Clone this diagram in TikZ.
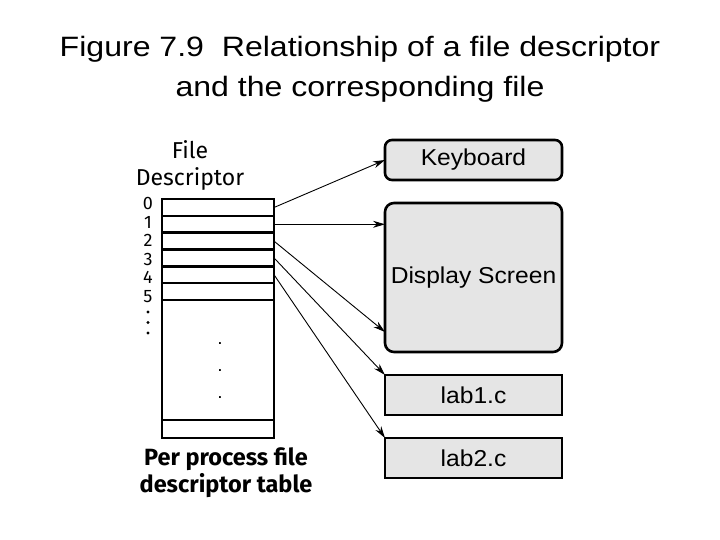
\documentclass[tikz,border=0pt]{standalone}
\usepackage{fontspec}
\setmainfont{Liberation Sans}[FakeStretch=1.07]
\newfontfamily\titlefont{Liberation Sans}[FakeStretch=1.145]
\newfontfamily\fdfont{Fira Sans}
\usetikzlibrary{arrows.meta,positioning}

\begin{document}
\begin{tikzpicture}[
  x=1pt, y=-1pt,
  node distance=23pt,
  slot/.style={draw, line width=2.6pt, minimum width=112pt, minimum height=16.8pt, inner sep=0pt, outer sep=0pt},
  dev/.style={draw, line width=2.6pt, fill=black!10, minimum width=177pt, minimum height=40pt, inner sep=0pt, outer sep=0pt, font=\fontsize{23}{27}\selectfont},
  num/.style={font=\fdfont\fontsize{18}{18.5}\selectfont, inner sep=0pt, align=center},
  link/.style={-{Stealth[length=12pt,width=7pt]}, line width=0.9pt}
]
\useasboundingbox (0,0) rectangle (720,540);

% Title
\node[align=center, font=\titlefont\fontsize{28}{40}\selectfont] (title) at (360,69) {Figure 7.9\ \ Relationship of a file descriptor\\and the corresponding file};

% Descriptor table
\node[slot] (r0) at (218,207.5) {};
\node[slot, below=0pt of r0] (r1) {};
\node[slot, below=0pt of r1] (r2) {};
\node[slot, below=0pt of r2] (r3) {};
\node[slot, below=0pt of r3] (r4) {};
\node[slot, below=0pt of r4] (r5) {};
\node[slot, below=0pt of r5, minimum height=120pt] (body) {};
\node[slot, below=0pt of body, minimum height=18pt] (last) {};
\node[align=center, font=\fontsize{18}{27}\selectfont] (tdots) at (220,371) {.\\.\\.};

% Numbers
\node[num, anchor=north] (nums) at (148,197.5) {0\\1\\2\\3\\4\\5};
\fill (148,312) circle (1.7pt);
\fill (148,322.5) circle (1.7pt);
\fill (148,333) circle (1.7pt);

% Labels
\node[align=center, font=\fdfont\fontsize{23}{27}\selectfont] (fdlabel) at (190,165) {File\\Descriptor};
\node[align=center, font=\fdfont\bfseries\fontsize{23.5}{27}\selectfont] (caption) at (226,473) {Per process file\\descriptor table};

% Devices
\node[dev, rounded corners=7pt] (kb) at (473.5,160) {Keyboard};
\node[dev, rounded corners=9pt, minimum height=149pt, below=of kb] (ds) {Display Screen};
\node[dev, below=of ds] (lab1) {lab1.c};
\node[dev, below=of lab1] (lab2) {lab2.c};

% Edges
\draw[link] (r0.east) -- (kb.west);
\draw[link] (r1.east) -- (ds.west |- r1.east);
\draw[link] (r2.east) -- ([yshift=20pt]ds.south west);
\draw[link] (r3.east) -- (lab1.north west);
\draw[link] (r4.east) -- (lab2.north west);

\end{tikzpicture}
\end{document}
